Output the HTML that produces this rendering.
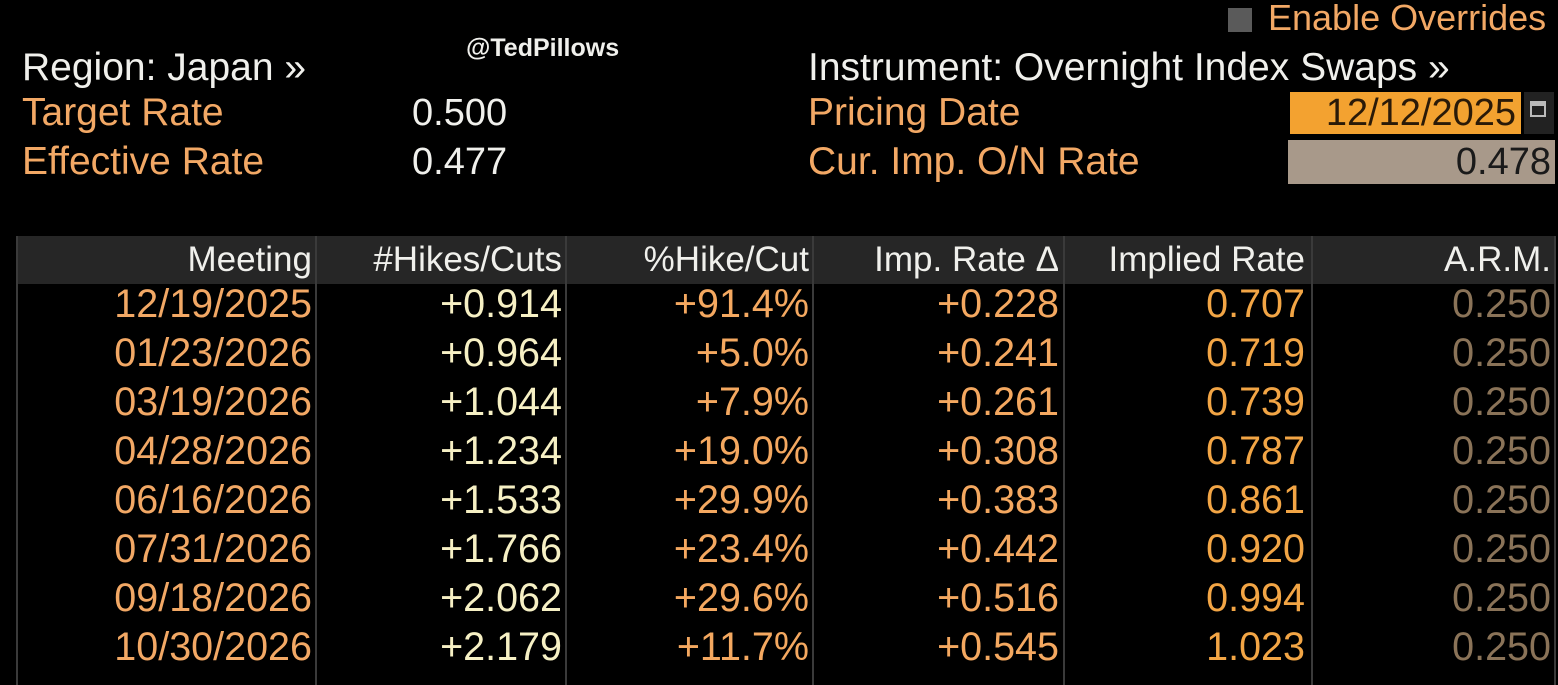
<!DOCTYPE html>
<html><head><meta charset="utf-8"><style>
html,body{margin:0;padding:0;background:#000;}
body{width:1558px;height:685px;position:relative;overflow:hidden;font-family:"Liberation Sans",sans-serif;}
.t{position:absolute;white-space:nowrap;font-size:39px;line-height:40px;}
.w{color:#f0f0ec}.o{color:#f2a865}
.hdr{position:absolute;left:18px;top:236px;width:1537px;height:48px;background:#262626;}
.vl{position:absolute;top:236px;width:2px;height:449px;background:#3a3a3a;}
.cell{position:absolute;white-space:nowrap;font-size:39.5px;line-height:40px;text-align:right;}
.hc{font-size:35px;}
</style></head><body>
<div class="t w" style="left:466px;top:28px;font-size:25px;font-weight:bold;">@TedPillows</div>
<div class="t w" style="left:22px;top:48px;">Region: Japan »</div>
<div class="t o" style="left:22px;top:93px;">Target Rate</div>
<div class="t o" style="left:22px;top:142px;">Effective Rate</div>
<div class="t w" style="left:412px;top:93px;font-size:38px;">0.500</div>
<div class="t w" style="left:412px;top:142px;font-size:38px;">0.477</div>
<div class="t w" style="left:808px;top:48px;">Instrument: Overnight Index Swaps »</div>
<div class="t o" style="left:808px;top:93px;">Pricing Date</div>
<div class="t o" style="left:808px;top:142px;">Cur. Imp. O/N Rate</div>
<div style="position:absolute;left:1228px;top:8px;width:24px;height:24px;background:#5a5a5a;"></div>
<div class="t o" style="left:1268px;top:-2px;font-size:36px;">Enable Overrides</div>
<div style="position:absolute;left:1290px;top:92px;width:231px;height:42px;background:#f3a230;"></div>
<div class="t" style="left:1290px;top:93px;width:226px;text-align:right;color:#2a1a08;font-size:38px;">12/12/2025</div>
<div style="position:absolute;left:1524px;top:92px;width:30px;height:42px;background:#222;"></div>
<div style="position:absolute;left:1530px;top:101px;width:16px;height:16px;border:2px solid #bbb;box-sizing:border-box;border-top-width:5px;"></div>
<div style="position:absolute;left:1288px;top:140px;width:267px;height:44px;background:#a8998a;"></div>
<div class="t" style="left:1288px;top:142px;width:263px;text-align:right;color:#1a1a1a;font-size:38px;">0.478</div>
<div class="hdr"></div>
<div class="vl" style="left:16px;"></div>
<div class="vl" style="left:315px;"></div>
<div class="vl" style="left:565px;"></div>
<div class="vl" style="left:812px;"></div>
<div class="vl" style="left:1063px;"></div>
<div class="vl" style="left:1311px;"></div>
<div class="vl" style="left:1554px;"></div>
<div id="tbl"></div>
<div class="cell hc w" style="left:0;width:312px;top:240px;">Meeting</div>
<div class="cell hc w" style="left:0;width:562px;top:240px;">#Hikes/Cuts</div>
<div class="cell hc w" style="left:0;width:809px;top:240px;">%Hike/Cut</div>
<div class="cell hc w" style="left:0;width:1059px;top:240px;">Imp. Rate Δ</div>
<div class="cell hc w" style="left:0;width:1305px;top:240px;">Implied Rate</div>
<div class="cell hc w" style="left:0;width:1551px;top:240px;">A.R.M.</div>
<script>
var rows=[["12/19/2025","+0.914","+91.4%","+0.228","0.707"],["01/23/2026","+0.964","+5.0%","+0.241","0.719"],["03/19/2026","+1.044","+7.9%","+0.261","0.739"],["04/28/2026","+1.234","+19.0%","+0.308","0.787"],["06/16/2026","+1.533","+29.9%","+0.383","0.861"],["07/31/2026","+1.766","+23.4%","+0.442","0.920"],["09/18/2026","+2.062","+29.6%","+0.516","0.994"],["10/30/2026","+2.179","+11.7%","+0.545","1.023"]];
var rights=[312,562,809,1059,1305,1551];
var cols=["#f2a865","#f6f0c4","#f4a860","#f4a860","#f2a545","#8a7358"];
var h="";
rows.forEach(function(r,i){r=r.concat(["0.250"]);var top=284+i*49;
r.forEach(function(v,j){h+='<div class="cell" style="left:0;width:'+rights[j]+'px;top:'+top+'px;color:'+cols[j]+'">'+v+'</div>';});});
document.getElementById("tbl").innerHTML=h;
</script>
</body></html>
